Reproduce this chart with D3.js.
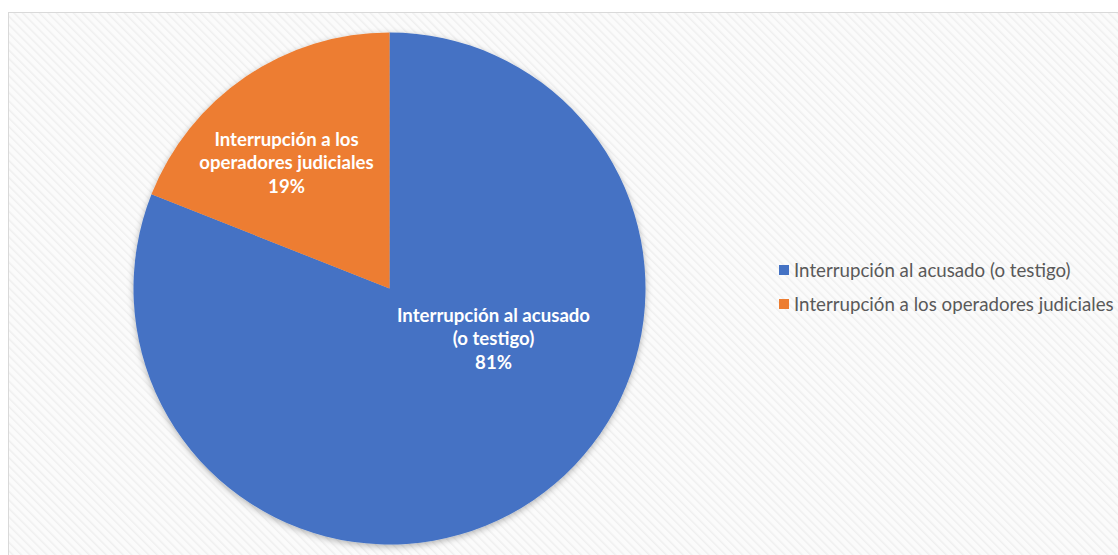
<!DOCTYPE html>
<html>
<head>
<meta charset="utf-8">
<style>
body { margin: 0; background: #fff; }
.slice-label { font: bold 18.6px Lato, "Open Sans", sans-serif; fill: #fff; }
.legend text { font: 18.7px Lato, "Open Sans", sans-serif; fill: #595959; }
</style>
<script src="https://cdn.jsdelivr.net/npm/d3@7"></script>
</head>
<body>
<script>
// data
var categories = ["Interrupción al acusado (o testigo)", "Interrupción a los operadores judiciales"];
var values = [81, 19];
var colors = ["#4472C4", "#ED7D31"];
var labelLines = [
  ["Interrupción al acusado", "(o testigo)", "81%"],
  ["Interrupción a los", "operadores judiciales", "19%"]
];

var width = 1118, height = 555;
var cx = 389.5, cy = 288.5, radius = 256;

var svg = d3.select("body").append("svg")
  .attr("width", width)
  .attr("height", height);

var defs = svg.append("defs");

// faint diagonal hatching of the chart area
var pat = defs.append("pattern")
  .attr("id", "hatch")
  .attr("width", 6).attr("height", 6)
  .attr("patternUnits", "userSpaceOnUse")
  .attr("patternTransform", "rotate(-45)");
pat.append("rect").attr("width", 6).attr("height", 6).attr("fill", "#fbfbfb");
pat.append("line")
  .attr("x1", 0).attr("y1", 0).attr("x2", 0).attr("y2", 6)
  .attr("stroke", "#efefef").attr("stroke-width", 3);

var shadow = defs.append("filter").attr("id", "shadow")
  .attr("x", "-10%").attr("y", "-10%").attr("width", "120%").attr("height", "120%");
shadow.append("feDropShadow")
  .attr("dx", 0).attr("dy", 2).attr("stdDeviation", 3)
  .attr("flood-color", "#000").attr("flood-opacity", 0.3);

svg.append("rect")
  .attr("x", 8.5).attr("y", 12.5)
  .attr("width", width + 10).attr("height", height + 10)
  .attr("fill", "url(#hatch)")
  .attr("stroke", "#d9d9d9");

var pie = d3.pie().sort(null).value(function(d) { return d; });
var arc = d3.arc().innerRadius(0).outerRadius(radius);

var g = svg.append("g")
  .attr("transform", "translate(" + cx + "," + cy + ")");

var arcs = pie(values);

g.append("g").attr("filter", "url(#shadow)")
  .selectAll("path")
  .data(arcs)
  .enter().append("path")
  .attr("d", arc)
  .attr("fill", function(d, i) { return colors[i]; });

// label positions, roughly where Excel put them
var labelPos = [[104, 50], [-103, -126]];

var lbl = g.selectAll(".slice-label")
  .data(arcs)
  .enter().append("text")
  .attr("class", "slice-label")
  .attr("text-anchor", "middle")
  .attr("transform", function(d, i) { return "translate(" + labelPos[i] + ")"; });

lbl.selectAll("tspan")
  .data(function(d, i) { return labelLines[i]; })
  .enter().append("tspan")
  .attr("x", 0)
  .attr("y", function(d, j) { return -23.5 + j * 23.5; })
  .attr("dy", "0.35em")
  .text(function(d) { return d; });

var legend = svg.append("g").attr("class", "legend")
  .attr("transform", "translate(779,270)");

var item = legend.selectAll("g")
  .data(categories)
  .enter().append("g")
  .attr("transform", function(d, i) { return "translate(0," + i * 34 + ")"; });

item.append("rect")
  .attr("x", 0).attr("y", -5)
  .attr("width", 10).attr("height", 10)
  .attr("fill", function(d, i) { return colors[i]; });

item.append("text")
  .attr("x", 15)
  .attr("dy", "0.35em")
  .text(function(d) { return d; });
</script>
</body>
</html>
